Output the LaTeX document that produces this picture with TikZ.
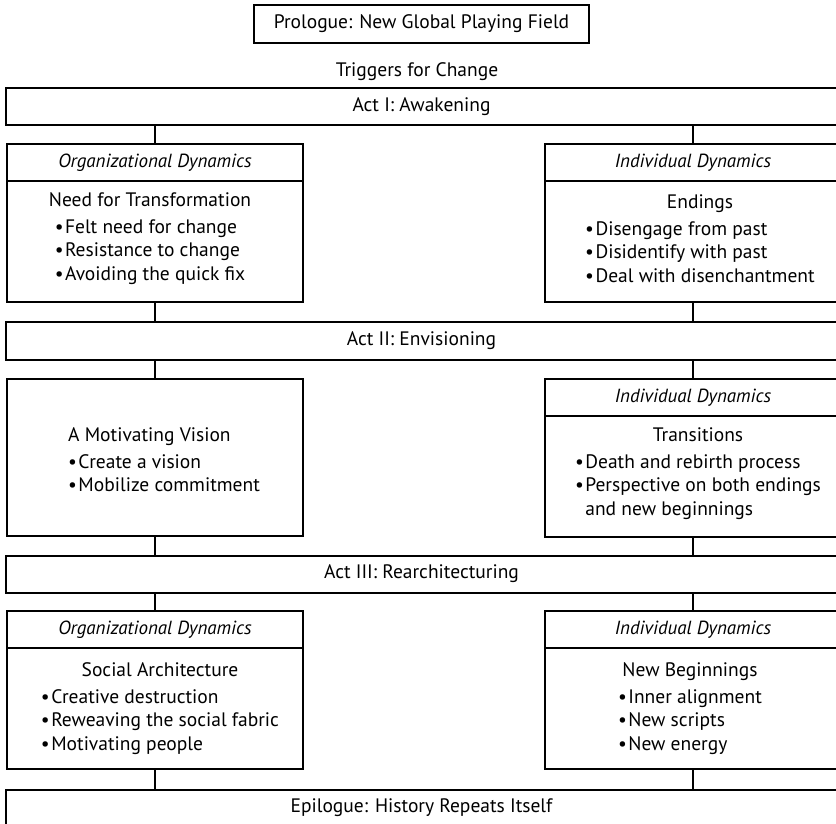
\documentclass[tikz,border=0pt]{standalone}
\usepackage{fontspec}
\setmainfont{PT Sans}
\usetikzlibrary{positioning}
\newcommand{\itm}{\textbullet\hspace{1.5pt}}
\newcommand{\pts}[1]{\begin{tabular}[t]{@{}l@{}}#1\end{tabular}}

\begin{document}
\begin{tikzpicture}[
  x=1pt, y=-1pt,
  every node/.style={font=\fontsize{19.5}{23.5}\selectfont},
  bar/.style={draw,line width=2pt,minimum width=831,minimum height=37,
              inner sep=0pt,outer sep=0pt},
  hdr/.style={draw,line width=2pt,minimum width=296,minimum height=37,
              inner sep=0pt,outer sep=0pt,font=\fontsize{19}{23.5}\selectfont\itshape},
  body/.style={draw,line width=2pt,minimum width=296,inner sep=0pt,outer sep=0pt},
  txt/.style={align=center,inner sep=0pt},
  link/.style={line width=2pt}
]
\useasboundingbox (0,0) rectangle (836,824);

%% Prologue + triggers
\node[bar,minimum width=335,minimum height=38] (prologue) at (421.5,24)
  {Prologue: New Global Playing Field};
\node (triggers) at (417,72) {Triggers for Change};

%% Act I: Awakening
\node[bar] (actI) at (421.5,106.5) {Act I: Awakening};
\node[hdr] (orgI) at (155,163) {Organizational Dynamics};
\node[body,minimum height=120,below=0pt of orgI] (orgIbox) {};
\node[txt,anchor=north] (orgItxt) at (150,192.5)
  {Need for Transformation\\[3pt]\pts{\itm Felt need for change\\
   \itm Resistance to change\\ \itm Avoiding the quick fix}};
\node[hdr] (indI) at (693,163) {Individual Dynamics};
\node[body,minimum height=120,below=0pt of indI] (indIbox) {};
\node[txt,anchor=north] (indItxt) at (700,194.5)
  {Endings\\[3pt]\pts{\itm Disengage from past\\
   \itm Disidentify with past\\ \itm Deal with disenchantment}};

%% Act II: Envisioning
\node[bar,minimum height=38] (actII) at (421.5,341) {Act II: Envisioning};
\node[body,minimum height=157] (visII) at (155,457.5) {};
\node[txt,anchor=north west,align=left] (visIItxt) at (68,427.5)
  {A Motivating Vision\\[3pt]\itm Create a vision\\ \itm Mobilize commitment};
\node[hdr] (indII) at (693,397.5) {Individual Dynamics};
\node[body,minimum height=121,below=0pt of indII] (indIIbox) {};
\node[txt,anchor=north] (indIItxt) at (698,427.5)
  {Transitions\\[3pt]\pts{\itm Death and rebirth process\\
   \itm Perspective on both endings\\ \phantom{\itm}and new beginnings}};

%% Act III: Rearchitecturing
\node[bar] (actIII) at (421.5,574) {Act III: Rearchitecturing};
\node[hdr] (orgIII) at (155,629.5) {Organizational Dynamics};
\node[body,minimum height=121,below=0pt of orgIII] (orgIIIbox) {};
\node[txt,anchor=north] (orgIIItxt) at (160,662.5)
  {Social Architecture\\[3pt]\pts{\itm Creative destruction\\
   \itm Reweaving the social fabric\\ \itm Motivating people}};
\node[hdr] (indIII) at (693,629.5) {Individual Dynamics};
\node[body,minimum height=121,below=0pt of indIII] (indIIIbox) {};
\node[txt,anchor=north] (indIIItxt) at (690,662.5)
  {New Beginnings\\[3pt]\pts{\itm Inner alignment\\
   \itm New scripts\\ \itm New energy}};

%% Epilogue
\node[bar,minimum height=36] (epilogue) at (421.5,808) {Epilogue: History Repeats Itself};

%% links: bar above -> box top, box bottom -> bar below
\foreach \bx/\br in {orgI/actI,indI/actI,visII/actII,indII/actII,orgIII/actIII,indIII/actIII}
  \draw[link] (\bx.north) -- (\bx.north |- \br.south);
\foreach \bx/\br in {orgIbox/actII,indIbox/actII,visII/actIII,indIIbox/actIII,
                     orgIIIbox/epilogue,indIIIbox/epilogue}
  \draw[link] (\bx.south) -- (\bx.south |- \br.north);
\end{tikzpicture}
\end{document}
